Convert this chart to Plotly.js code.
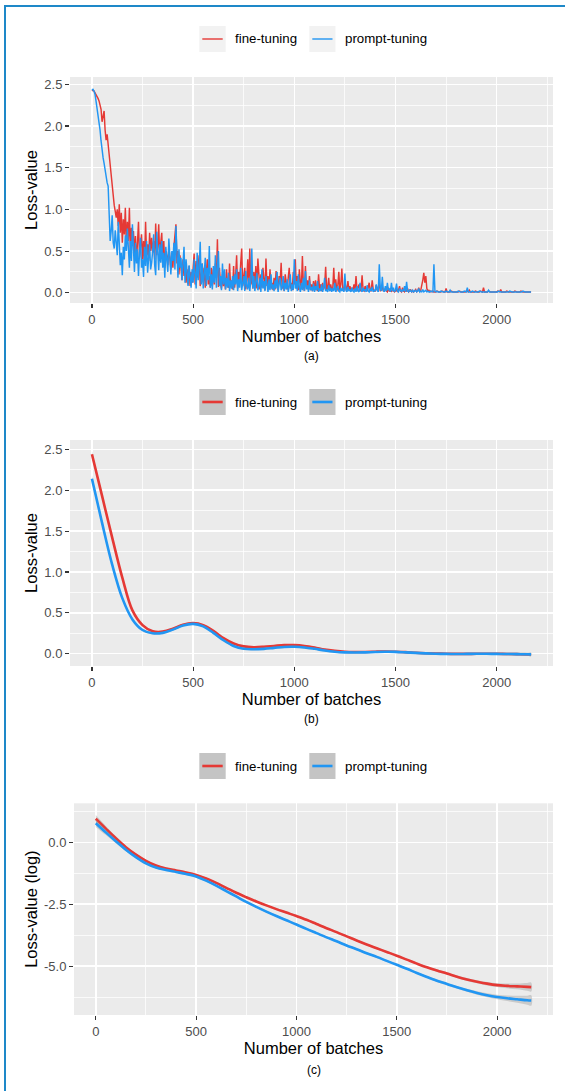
<!DOCTYPE html>
<html><head><meta charset="utf-8">
<script src="https://cdn.plot.ly/plotly-3.0.1.min.js"></script>
<style>
html,body{margin:0;padding:0;background:#fff;}
#wrap{position:relative;width:565px;height:1091px;overflow:hidden;}
#chart{width:565px;height:1091px;}
#frame{position:absolute;left:3.5px;top:5px;right:-20px;bottom:-20px;border-left:2.5px solid #1E88C8;border-top:2.4px solid #1E88C8;pointer-events:none;}
</style></head><body>
<div id="wrap"><div id="chart"></div><div id="frame"></div></div>
<script>
// ---------- data ----------
const seriesNames = ['fine-tuning', 'prompt-tuning'];
const STEP = 5; // raw losses read every 5 batches
const rawFine = [
2.42,2.43,2.42,2.40,2.38,2.36,2.33,2.30,2.26,2.20, 2.05,2.10,2.18,1.95,1.83,1.90,1.78,1.62,1.55,1.40,
1.25,1.15,1.05,0.98,0.90,1.00,0.80,1.06,0.72,0.96, 0.60,0.88,0.70,1.02,0.55,0.85,0.62,1.02,0.48,0.78,
0.62,0.74,0.45,0.68,0.38,0.60,0.85,0.42,0.55,0.70, 0.40,0.62,0.35,0.85,0.45,0.58,0.38,0.72,0.50,0.66,
0.48,0.62,0.40,0.83,0.45,0.55,0.82,0.38,0.60,0.72, 0.35,0.62,0.30,0.50,0.44,0.33,0.55,0.40,0.28,0.48,
0.30,0.55,0.68,0.82,0.35,0.50,0.22,0.45,0.30,0.15, 0.40,0.20,0.35,0.12,0.28,0.10,0.32,0.08,0.25,0.12,
0.30,0.47,0.10,0.38,0.18,0.28,0.45,0.08,0.22,0.35, 0.12,0.30,0.06,0.25,0.40,0.10,0.20,0.06,0.30,0.08,
0.28,0.10,0.35,0.18,0.64,0.07,0.30,0.12,0.05,0.22, 0.08,0.18,0.04,0.28,0.10,0.06,0.35,0.08,0.15,0.04,
0.32,0.06,0.20,0.45,0.05,0.25,0.12,0.35,0.53,0.08, 0.20,0.30,0.04,0.15,0.40,0.06,0.53,0.10,0.22,0.05,
0.25,0.08,0.32,0.05,0.41,0.12,0.04,0.22,0.06,0.30, 0.15,0.03,0.41,0.08,0.20,0.04,0.28,0.05,0.12,0.03,
0.18,0.04,0.26,0.08,0.03,0.20,0.12,0.36,0.05,0.15, 0.02,0.22,0.08,0.04,0.18,0.30,0.05,0.12,0.03,0.25,
0.10,0.40,0.05,0.20,0.03,0.28,0.12,0.05,0.44,0.08, 0.02,0.32,0.06,0.15,0.04,0.20,0.03,0.10,0.02,0.14,
0.03,0.15,0.06,0.02,0.22,0.04,0.10,0.02,0.12,0.04, 0.08,0.31,0.03,0.06,0.18,0.02,0.10,0.03,0.05,0.30,
0.04,0.16,0.02,0.08,0.25,0.03,0.10,0.29,0.04,0.02, 0.12,0.05,0.02,0.14,0.03,0.08,0.02,0.06,0.03,0.10,
0.03,0.20,0.02,0.06,0.10,0.02,0.04,0.21,0.03,0.02, 0.08,0.04,0.02,0.06,0.12,0.03,0.02,0.15,0.04,0.02,
0.02,0.09,0.03,0.05,0.12,0.02,0.04,0.07,0.02,0.03, 0.05,0.02,0.01,0.06,0.02,0.03,0.01,0.04,0.02,0.01,
0.02,0.04,0.01,0.03,0.08,0.02,0.01,0.06,0.02,0.01, 0.03,0.02,0.05,0.01,0.02,0.04,0.01,0.02,0.01,0.03,
0.04,0.01,0.02,0.06,0.01,0.03,0.08,0.15,0.24,0.12, 0.20,0.05,0.02,0.03,0.01,0.02,0.01,0.02,0.01,0.01,
0.01,0.02,0.01,0.01,0.01,0.01,0.02,0.01,0.01,0.01, 0.05,0.01,0.01,0.01,0.01,0.02,0.01,0.01,0.01,0.01,
0.01,0.01,0.01,0.02,0.01,0.01,0.01,0.01,0.01,0.01, 0.02,0.01,0.01,0.03,0.01,0.01,0.01,0.01,0.01,0.02,
0.01,0.01,0.01,0.01,0.02,0.01,0.01,0.06,0.01,0.01, 0.01,0.01,0.02,0.01,0.01,0.01,0.01,0.01,0.01,0.01,
0.01,0.02,0.01,0.01,0.04,0.01,0.01,0.01,0.01,0.01, 0.02,0.01,0.01,0.01,0.01,0.01,0.01,0.01,0.02,0.01,
0.01,0.01,0.01,0.01,0.02,0.01,0.01,0.01,0.01,0.01, 0.01,0.01,0.01,0.01,0.01
];
const rawPrompt = [
2.43,2.44,2.42,2.38,2.30,2.22,2.12,2.02,1.95,1.82, 1.70,1.62,1.55,1.46,1.40,1.32,1.28,1.02,0.62,0.74,
0.93,0.60,0.53,0.75,0.62,0.45,0.85,0.58,0.33,0.48, 0.21,0.55,0.40,0.69,0.50,0.77,0.42,0.30,0.62,0.38,
0.82,0.45,0.25,0.60,0.35,0.52,0.20,0.48,0.66,0.30, 0.40,0.19,0.55,0.32,0.62,0.24,0.45,0.58,0.28,0.36,
0.50,0.70,0.33,0.21,0.73,0.45,0.27,0.58,0.36,0.62, 0.30,0.48,0.18,0.55,0.40,0.25,0.65,0.35,0.22,0.50,
0.38,0.60,0.28,0.80,0.45,0.18,0.52,0.30,0.42,0.15, 0.35,0.55,0.12,0.40,0.25,0.08,0.33,0.18,0.06,0.28,
0.12,0.40,0.22,0.05,0.48,0.15,0.30,0.61,0.10,0.35, 0.05,0.25,0.42,0.08,0.30,0.15,0.56,0.06,0.22,0.04,
0.32,0.12,0.45,0.06,0.25,0.50,0.08,0.20,0.03,0.35, 0.10,0.28,0.04,0.18,0.06,0.24,0.02,0.15,0.05,0.20,
0.03,0.22,0.10,0.28,0.02,0.16,0.06,0.30,0.03,0.12, 0.20,0.02,0.26,0.08,0.04,0.18,0.02,0.14,0.53,0.05,
0.20,0.02,0.12,0.24,0.03,0.08,0.18,0.01,0.28,0.05, 0.14,0.02,0.20,0.06,0.01,0.16,0.03,0.22,0.04,0.10,
0.02,0.15,0.05,0.25,0.01,0.10,0.18,0.03,0.06,0.20, 0.02,0.12,0.04,0.16,0.01,0.08,0.22,0.02,0.10,0.03,
0.40,0.05,0.14,0.02,0.22,0.06,0.01,0.12,0.03,0.18, 0.02,0.26,0.04,0.09,0.01,0.15,0.03,0.07,0.02,0.11,
0.01,0.08,0.03,0.14,0.01,0.05,0.02,0.10,0.01,0.06, 0.18,0.02,0.04,0.01,0.09,0.02,0.06,0.01,0.05,0.02,
0.12,0.01,0.04,0.08,0.02,0.01,0.06,0.02,0.05,0.01, 0.23,0.03,0.01,0.07,0.02,0.04,0.01,0.06,0.02,0.01,
0.05,0.01,0.08,0.02,0.01,0.12,0.03,0.01,0.06,0.02, 0.04,0.01,0.09,0.02,0.01,0.05,0.02,0.07,0.01,0.03,
0.02,0.10,0.03,0.01,0.34,0.05,0.02,0.19,0.03,0.01, 0.08,0.02,0.12,0.03,0.05,0.01,0.12,0.02,0.06,0.01,
0.03,0.11,0.02,0.01,0.05,0.02,0.01,0.04,0.02,0.08, 0.01,0.13,0.02,0.01,0.04,0.02,0.01,0.03,0.01,0.02,
0.03,0.01,0.02,0.05,0.01,0.02,0.01,0.04,0.01,0.02, 0.03,0.01,0.02,0.01,0.01,0.02,0.01,0.01,0.34,0.02,
0.01,0.02,0.01,0.01,0.01,0.02,0.01,0.01,0.01,0.01, 0.02,0.01,0.01,0.01,0.03,0.01,0.01,0.01,0.01,0.01,
0.01,0.01,0.02,0.01,0.01,0.01,0.01,0.01,0.02,0.01, 0.01,0.06,0.01,0.01,0.01,0.01,0.02,0.01,0.01,0.01,
0.01,0.01,0.01,0.02,0.01,0.01,0.01,0.01,0.01,0.01, 0.01,0.01,0.03,0.01,0.01,0.01,0.01,0.01,0.01,0.01,
0.01,0.01,0.02,0.01,0.01,0.01,0.01,0.01,0.01,0.01, 0.01,0.01,0.01,0.02,0.01,0.01,0.01,0.01,0.01,0.01,
0.01,0.01,0.01,0.01,0.01,0.01,0.02,0.01,0.01,0.01, 0.01,0.01,0.01,0.01,0.01
];
const rawBatchesFine = rawFine.map((_, i) => i * STEP);
const rawBatchesPrompt = rawPrompt.map((_, i) => i * STEP);

// smoothed curves (loess-like), read every 50 batches
const smoothBatches = [0,50,100,150,200,250,300,350,400,450,500,550,600,650,700,750,800,850,900,950,
  1000,1050,1100,1150,1200,1250,1300,1350,1400,1450,1500,1550,1600,1650,1700,1750,1800,1850,1900,1950,
  2000,2050,2100,2150,2170];
const smoothFine = [2.44,1.93,1.42,0.93,0.53,0.35,0.275,0.27,0.305,0.355,0.375,0.35,0.28,0.19,0.125,0.09,0.08,0.085,0.095,0.105,
  0.105,0.095,0.075,0.05,0.035,0.025,0.022,0.022,0.025,0.027,0.025,0.02,0.012,0.006,0.002,0.0,-0.002,-0.002,-0.001,0.0,
  -0.001,-0.003,-0.005,-0.008,-0.01];
const smoothPrompt = [2.14,1.60,1.09,0.68,0.42,0.29,0.25,0.255,0.295,0.345,0.365,0.335,0.255,0.165,0.095,0.06,0.055,0.06,0.072,0.083,
  0.085,0.077,0.06,0.04,0.025,0.017,0.015,0.017,0.021,0.024,0.023,0.017,0.01,0.004,0.0,-0.002,-0.003,-0.002,-0.001,-0.001,
  -0.002,-0.003,-0.005,-0.007,-0.008];
const seSmoothFine = [0.04,0.03,0.02,0.02,0.015,0.015,0.012,0.012,0.012,0.012,0.012,0.012,0.012,0.012,0.012,0.012,0.012,0.012,0.012,0.012,
  0.012,0.012,0.012,0.012,0.012,0.012,0.012,0.012,0.012,0.012,0.012,0.012,0.012,0.012,0.012,0.012,0.012,0.012,0.012,0.012,
  0.013,0.014,0.016,0.018,0.02];
const seSmoothPrompt = seSmoothFine;

// smoothed log-loss curves
const logFine = [0.95,0.55,0.16,-0.20,-0.50,-0.75,-0.94,-1.06,-1.14,-1.22,-1.32,-1.46,-1.64,-1.84,-2.04,-2.22,-2.39,-2.55,-2.70,-2.84,
  -2.98,-3.13,-3.30,-3.47,-3.63,-3.80,-3.97,-4.13,-4.28,-4.43,-4.58,-4.74,-4.90,-5.05,-5.18,-5.30,-5.43,-5.54,-5.63,-5.71,
  -5.77,-5.80,-5.82,-5.84,-5.85];
const logPrompt = [0.77,0.40,0.04,-0.30,-0.60,-0.85,-1.02,-1.12,-1.20,-1.28,-1.38,-1.55,-1.75,-1.97,-2.19,-2.41,-2.61,-2.80,-2.98,-3.15,
  -3.32,-3.50,-3.67,-3.84,-4.00,-4.17,-4.32,-4.48,-4.63,-4.79,-4.95,-5.11,-5.28,-5.44,-5.59,-5.72,-5.86,-5.98,-6.09,-6.18,
  -6.25,-6.30,-6.34,-6.38,-6.39];
const seLogFine = [0.15,0.11,0.08,0.06,0.05,0.05,0.04,0.04,0.04,0.04,0.04,0.04,0.04,0.04,0.04,0.04,0.04,0.04,0.04,0.04,
  0.04,0.04,0.04,0.04,0.04,0.04,0.04,0.04,0.04,0.04,0.04,0.04,0.04,0.04,0.05,0.05,0.05,0.06,0.06,0.07,
  0.08,0.10,0.12,0.16,0.18];
const seLogPrompt = [0.15,0.11,0.08,0.06,0.05,0.05,0.04,0.04,0.04,0.04,0.04,0.04,0.04,0.04,0.04,0.04,0.04,0.04,0.04,0.04,
  0.04,0.04,0.04,0.04,0.04,0.04,0.04,0.04,0.04,0.04,0.04,0.04,0.04,0.04,0.05,0.05,0.05,0.06,0.07,0.08,
  0.09,0.11,0.14,0.18,0.21];

const xTicks = [0,500,1000,1500,2000];
const xTickText = ['0','500','1000','1500','2000'];
const xMinor = [250,750,1250,1750,2250];
const yTicksLin = [0,0.5,1,1.5,2,2.5];
const yTickTextLin = ['0.0','0.5','1.0','1.5','2.0','2.5'];
const yMinorLin = [0.25,0.75,1.25,1.75,2.25];
const yTicksLog = [-5,-2.5,0];
const yTickTextLog = ['-5.0','-2.5','0.0'];
const yMinorLog = [-6.25,-3.75,-1.25,1.25];
const panelLabels = ['(a)','(b)','(c)'];
const xTitle = 'Number of batches';
const yTitles = ['Loss-value','Loss-value','Loss-value (log)'];

// ---------- style ----------
const FONT = 'Liberation Sans, Arial, sans-serif';
const RED = '#E53935', BLUE = '#2196F3';
const RIBBON = 'rgba(153,153,153,0.4)';
const W = 565, H = 1091, ML = 70, MR = 12, MT = 77, MB = 76;
const PW = W - ML - MR, PH = H - MT - MB;
const px2x = p => (p - ML) / PW;
const py2y = p => (H - MB - p) / PH;

function xAxis(domain, anchor) {
  return {
    domain, anchor, range: [-108.5, 2278.5], tickmode: 'array', tickvals: xTicks, ticktext: xTickText,
    ticks: 'outside', ticklen: 4, tickwidth: 1.1, tickcolor: '#333333',
    tickfont: {family: FONT, size: 13, color: '#4D4D4D'},
    showgrid: true, gridcolor: '#FFFFFF', gridwidth: 1.5, zeroline: false, showline: false,
    minor: {tickmode: 'array', tickvals: xMinor, showgrid: true, gridcolor: '#FFFFFF', gridwidth: 0.75, ticks: ''},
    title: {text: xTitle, font: {family: FONT, size: 16.5, color: '#000000'}, standoff: 0},
    fixedrange: true
  };
}
function yAxis(domain, anchor, range, tv, tt, minor, title) {
  return {
    domain, anchor, range, tickmode: 'array', tickvals: tv, ticktext: tt,
    ticks: 'outside', ticklen: 4, tickwidth: 1.1, tickcolor: '#333333',
    tickfont: {family: FONT, size: 13, color: '#4D4D4D'},
    showgrid: true, gridcolor: '#FFFFFF', gridwidth: 1.5, zeroline: false, showline: false,
    minor: {tickmode: 'array', tickvals: minor, showgrid: true, gridcolor: '#FFFFFF', gridwidth: 0.75, ticks: ''},
    title: {text: title, font: {family: FONT, size: 16.5, color: '#000000'}, standoff: 2},
    fixedrange: true
  };
}

function ribbon(x, y, se, xa, ya) {
  const up = y.map((v, i) => v + se[i]);
  const lo = y.map((v, i) => v - se[i]);
  return {x: x.concat(x.slice().reverse()), y: up.concat(lo.slice().reverse()), xaxis: xa, yaxis: ya,
    type: 'scatter', mode: 'lines', fill: 'toself', fillcolor: RIBBON, line: {width: 0, shape: 'spline'},
    hoverinfo: 'skip', showlegend: false};
}
function line(x, y, color, width, xa, ya, name, smooth) {
  return {x, y, xaxis: xa, yaxis: ya, type: 'scatter', mode: 'lines', name,
    line: {color, width, shape: smooth ? 'spline' : 'linear'}, showlegend: false};
}

const data = [
  line(rawBatchesFine, rawFine, RED, 1.45, 'x', 'y', seriesNames[0], false),
  line(rawBatchesPrompt, rawPrompt, BLUE, 1.45, 'x', 'y', seriesNames[1], false),
  ribbon(smoothBatches, smoothFine, seSmoothFine, 'x2', 'y2'),
  line(smoothBatches, smoothFine, RED, 2.6, 'x2', 'y2', seriesNames[0], true),
  ribbon(smoothBatches, smoothPrompt, seSmoothPrompt, 'x2', 'y2'),
  line(smoothBatches, smoothPrompt, BLUE, 2.6, 'x2', 'y2', seriesNames[1], true),
  ribbon(smoothBatches, logFine, seLogFine, 'x3', 'y3'),
  line(smoothBatches, logFine, RED, 2.6, 'x3', 'y3', seriesNames[0], true),
  ribbon(smoothBatches, logPrompt, seLogPrompt, 'x3', 'y3'),
  line(smoothBatches, logPrompt, BLUE, 2.6, 'x3', 'y3', seriesNames[1], true)
];

// legends (ggplot-style keys) and panel labels
const shapes = [], annotations = [];
const legendCenters = [39, 402, 766];
const keyFills = ['#F2F2F2', '#C4C4C4', '#C4C4C4'];
const keyLineW = [1.4, 2.6, 2.6];
const keys = [{x0: 199.3, x1: 225.7, tx: 233, color: RED, label: seriesNames[0]},
              {x0: 309.3, x1: 335.5, tx: 343, color: BLUE, label: seriesNames[1]}];
legendCenters.forEach((cy, p) => {
  keys.forEach(k => {
    shapes.push({type: 'rect', xref: 'paper', yref: 'paper', x0: px2x(k.x0), x1: px2x(k.x1),
      y0: py2y(cy + 13), y1: py2y(cy - 13), fillcolor: keyFills[p], line: {width: 0}, layer: 'above'});
    shapes.push({type: 'line', xref: 'paper', yref: 'paper', x0: px2x(k.x0 + 3), x1: px2x(k.x1 - 3),
      y0: py2y(cy), y1: py2y(cy), line: {color: k.color, width: keyLineW[p]}, layer: 'above'});
    annotations.push({xref: 'paper', yref: 'paper', x: px2x(k.tx), y: py2y(cy), xanchor: 'left', yanchor: 'middle',
      text: k.label, showarrow: false, font: {family: FONT, size: 13.3, color: '#000000'}});
  });
});
const labelPos = [[311.5, 356], [311.5, 718.5], [313.5, 1070]];
panelLabels.forEach((t, i) => {
  annotations.push({xref: 'paper', yref: 'paper', x: px2x(labelPos[i][0]), y: py2y(labelPos[i][1]),
    xanchor: 'center', yanchor: 'middle', text: t, showarrow: false, font: {family: FONT, size: 12, color: '#000000'}});
});

const layout = {
  width: W, height: H, margin: {l: ML, r: MR, t: MT, b: MB, autoexpand: false},
  paper_bgcolor: '#FFFFFF', plot_bgcolor: '#EBEBEB', showlegend: false,
  font: {family: FONT},
  xaxis: xAxis([0, 1], 'y'),
  yaxis: yAxis([(H - MB - 303) / PH, 1], 'x', [-0.123, 2.587], yTicksLin, yTickTextLin, yMinorLin, yTitles[0]),
  xaxis2: xAxis([0, 1], 'y2'),
  yaxis2: yAxis([(H - MB - 666) / PH, (H - MB - 440) / PH], 'x2', [-0.15, 2.614], yTicksLin, yTickTextLin, yMinorLin, yTitles[1]),
  xaxis3: xAxis([4 / PW, 1], 'y3'),
  yaxis3: yAxis([0, (H - MB - 803.3) / PH], 'x3', [-6.976, 1.573], yTicksLog, yTickTextLog, yMinorLog, yTitles[2]),
  shapes, annotations
};
Plotly.newPlot('chart', data, layout, {displayModeBar: false, staticPlot: true});
</script>
</body></html>
